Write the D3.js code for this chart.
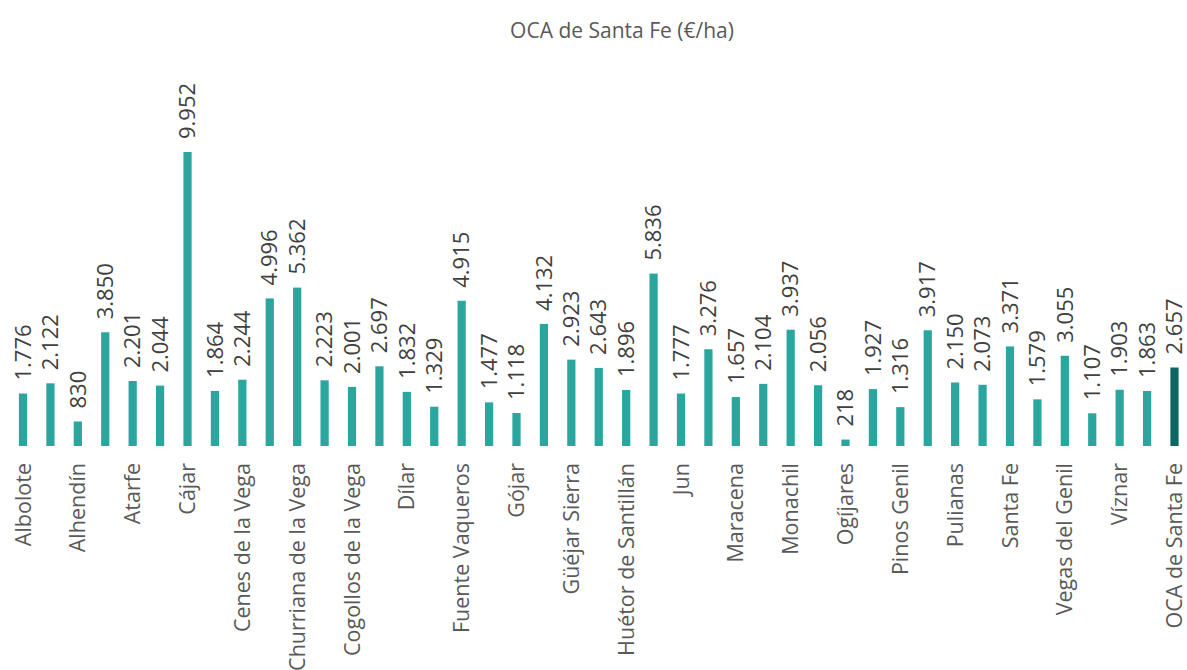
<!DOCTYPE html>
<html>
<head>
<meta charset="utf-8">
<script src="https://cdn.jsdelivr.net/npm/d3@7"></script>
<style>
  body { margin: 0; background: #fff; }
  svg { display: block; font-family: "Open Sans", sans-serif; }
</style>
</head>
<body>
<div id="chart"></div>
<script>
const municipios = [
    "Albolote", "Alfacar", "Alhendín", "Armilla", "Atarfe", "Beas de Granada",
    "Cájar", "Calicasas", "Cenes de la Vega", "Chauchina", "Churriana de la Vega",
    "Cijuela", "Cogollos de la Vega", "Cúllar Vega", "Dílar", "Dúdar",
    "Fuente Vaqueros", "Gabias (Las)", "Gójar", "Granada", "Güéjar Sierra",
    "Güevéjar", "Huétor de Santillán", "Huétor Vega", "Jun", "Láchar",
    "Maracena", "Moclín", "Monachil", "Nívar", "Ogíjares", "Peligros",
    "Pinos Genil", "Pinos Puente", "Pulianas", "Quéntar", "Santa Fe",
    "Valderrubio", "Vegas del Genil", "Villa de Otura", "Víznar", "Zubia (La)",
    "OCA de Santa Fe"
];

const valores = [
    1776, 2122, 830, 3850, 2201, 2044, 9952, 1864, 2244, 4996, 5362,
    2223, 2001, 2697, 1832, 1329, 4915, 1477, 1118, 4132, 2923, 2643,
    1896, 5836, 1777, 3276, 1657, 2104, 3937, 2056, 218, 1927, 1316,
    3917, 2150, 2073, 3371, 1579, 3055, 1107, 1903, 1863, 2657
];

const titulo = "OCA de Santa Fe (€/ha)";
const total = "OCA de Santa Fe";

const width = 1187, height = 670;
const baseY = 446;

const es = d3.formatLocale({ decimal: ",", thousands: ".", grouping: [3], currency: ["", "€"] });
const fmt = es.format(",d");

const data = municipios.map((m, i) => ({ name: m, value: valores[i] }));

const svg = d3.select("#chart").append("svg")
    .attr("width", width)
    .attr("height", height);

svg.append("text")
    .attr("x", 622)
    .attr("y", 38)
    .attr("text-anchor", "middle")
    .attr("font-size", 21)
    .attr("fill", "#595959")
    .text(titulo);

let x = d3.scaleBand()
    .domain(municipios)
    .range([9.3, 1188.2])
    .paddingInner(0.7)
    .paddingOuter(0.35);

let y = d3.scaleLinear()
    .domain([0, 9952])
    .range([baseY, 152]);

svg.append("g")
    .selectAll("rect")
    .data(data)
    .join("rect")
        .attr("x", d => x(d.name))
        .attr("width", x.bandwidth())
        .attr("y", d => y(d.value))
        .attr("height", d => baseY - y(d.value))
        .attr("fill", d => d.name === total ? "#0c6662" : "#2aa69f");

// etiquetas de valor, giradas
svg.append("g")
    .selectAll("text")
    .data(data)
    .join("text")
        .attr("transform", d => `translate(${x(d.name) + x.bandwidth() / 2},${y(d.value) - 13}) rotate(-90)`)
        .attr("dy", "0.35em")
        .attr("font-size", 22)
        .attr("fill", "#404040")
        .text(d => fmt(d.value));

// eje x: solo una de cada dos etiquetas
let xAxis = d3.axisBottom(x)
    .tickSize(0)
    .tickPadding(0)
    .tickValues(municipios.filter((m, i) => i % 2 === 0));

let axisG = svg.append("g")
    .attr("transform", `translate(0,${baseY})`)
    .call(xAxis);
axisG.select(".domain").remove();
axisG.selectAll("text")
    .attr("transform", "translate(0,17) rotate(-90)")
    .attr("x", 0)
    .attr("y", 0)
    .attr("dy", "0.35em")
    .attr("text-anchor", "end")
    .attr("font-size", 21.5)
    .attr("font-family", "Open Sans, sans-serif")
    .attr("fill", "#595959");
</script>
</body>
</html>
